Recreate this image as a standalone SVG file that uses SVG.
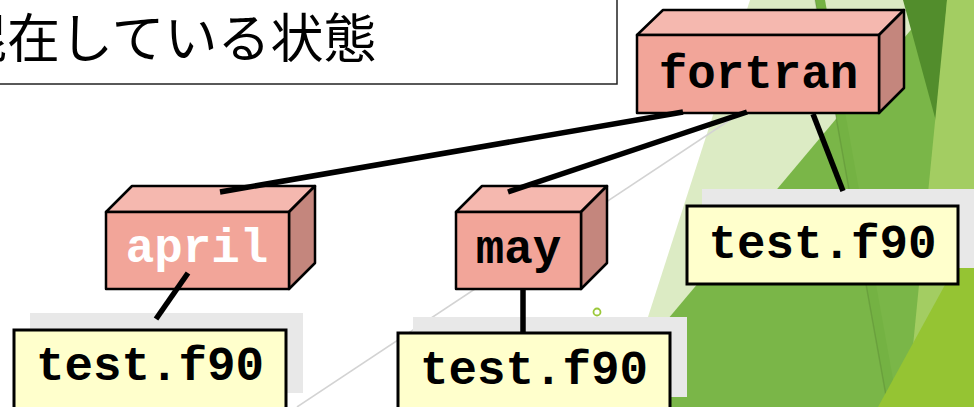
<svg xmlns="http://www.w3.org/2000/svg" width="974" height="407" viewBox="0 0 974 407">
<style>
.front{fill:#F2A599;stroke:#000;stroke-width:2.5;stroke-linejoin:round}
.top{fill:#F5B8AF;stroke:#000;stroke-width:2.5;stroke-linejoin:round}
.side{fill:#C4867D;stroke:#000;stroke-width:2.5;stroke-linejoin:round}
.shadow{fill:#E8E8E8}
.file{fill:#FFFFCC;stroke:#000;stroke-width:3}
.mono{font-family:"Liberation Mono","Courier New",monospace;font-weight:bold;font-size:47.5px;text-anchor:middle}
.conn{stroke:#000;stroke-width:5.5;fill:none}
</style>
<rect width="974" height="407" fill="#FFFFFF"/>
<g id="background">
<polygon points="750,0 974,0 974,407 619,407" fill="#DCEBC4"/>
<polygon points="594,407 936,0 974,0 974,407" fill="#7AB648"/>
<polygon points="815,0 825,0 898,407 888,407" fill="#74B243"/>
<line x1="815" y1="0" x2="888" y2="407" stroke="#000" stroke-opacity="0.1" stroke-width="1.5"/>
<polygon points="903,0 947,0 937,125" fill="#528D2C"/>
<polygon points="947,0 974,0 974,407 907,407" fill="#A3CD62"/>
<polygon points="878,407 974,232 974,407" fill="#95C433"/>
<line x1="297" y1="407" x2="760" y2="100" stroke="#D3D3D3" stroke-width="1.5"/>
<circle cx="597" cy="312" r="3.5" fill="#FFFFFF" stroke="#9BC83A" stroke-width="1.8"/>
</g>
<g id="title">
<rect x="-10" y="-10" width="627" height="94" fill="#FFFFFF" stroke="#222" stroke-width="1.5"/>
<text x="-46" y="58" font-family="'Noto Sans CJK JP','Noto Sans',sans-serif" font-size="53" fill="#000">混在している状態</text>
</g>
<g id="fortran">
<polygon class="top" points="637,35 663,10 904,10 879,35"/>
<polygon class="side" points="879,35 904,10 904,88 879,113"/>
<rect class="front" x="637" y="35" width="242" height="78"/>
<text class="mono" x="758.5" y="88" fill="#000">fortran</text>
</g>
<g id="april">
<polygon class="top" points="106,212 132,186 315,186 289,212"/>
<polygon class="side" points="289,212 315,186 315,263 289,289"/>
<rect class="front" x="106" y="212" width="183" height="77"/>
<text class="mono" x="197" y="262" fill="#FFFFFF">april</text>
</g>
<g id="may">
<polygon class="top" points="456,212 482,186 607,186 581,212"/>
<polygon class="side" points="581,212 607,186 607,263 581,289"/>
<rect class="front" x="456" y="212" width="125" height="77"/>
<text class="mono" x="518.5" y="263" fill="#000">may</text>
</g>
<g id="file-fortran">
<rect class="shadow" x="702" y="189" width="272" height="79"/>
<rect class="file" x="687" y="206" width="271" height="78"/>
<text class="mono" x="822.5" y="258" fill="#000">test.f90</text>
</g>
<g id="file-april">
<rect class="shadow" x="30" y="313" width="273" height="80"/>
<rect class="file" x="14" y="330" width="272" height="80"/>
<text class="mono" x="150" y="380" fill="#000">test.f90</text>
</g>
<g id="file-may">
<rect class="shadow" x="413" y="317" width="274" height="80"/>
<rect class="file" x="398" y="333" width="272" height="80"/>
<text class="mono" x="534" y="384" fill="#000">test.f90</text>
</g>
<g id="connectors">
<line class="conn" x1="683" y1="112" x2="220" y2="192"/>
<line class="conn" x1="747" y1="112" x2="508" y2="192"/>
<line class="conn" x1="813" y1="114" x2="843" y2="191"/>
<line class="conn" x1="188" y1="273" x2="156" y2="319"/>
<line class="conn" x1="523" y1="289" x2="523" y2="334"/>
</g>
</svg>
